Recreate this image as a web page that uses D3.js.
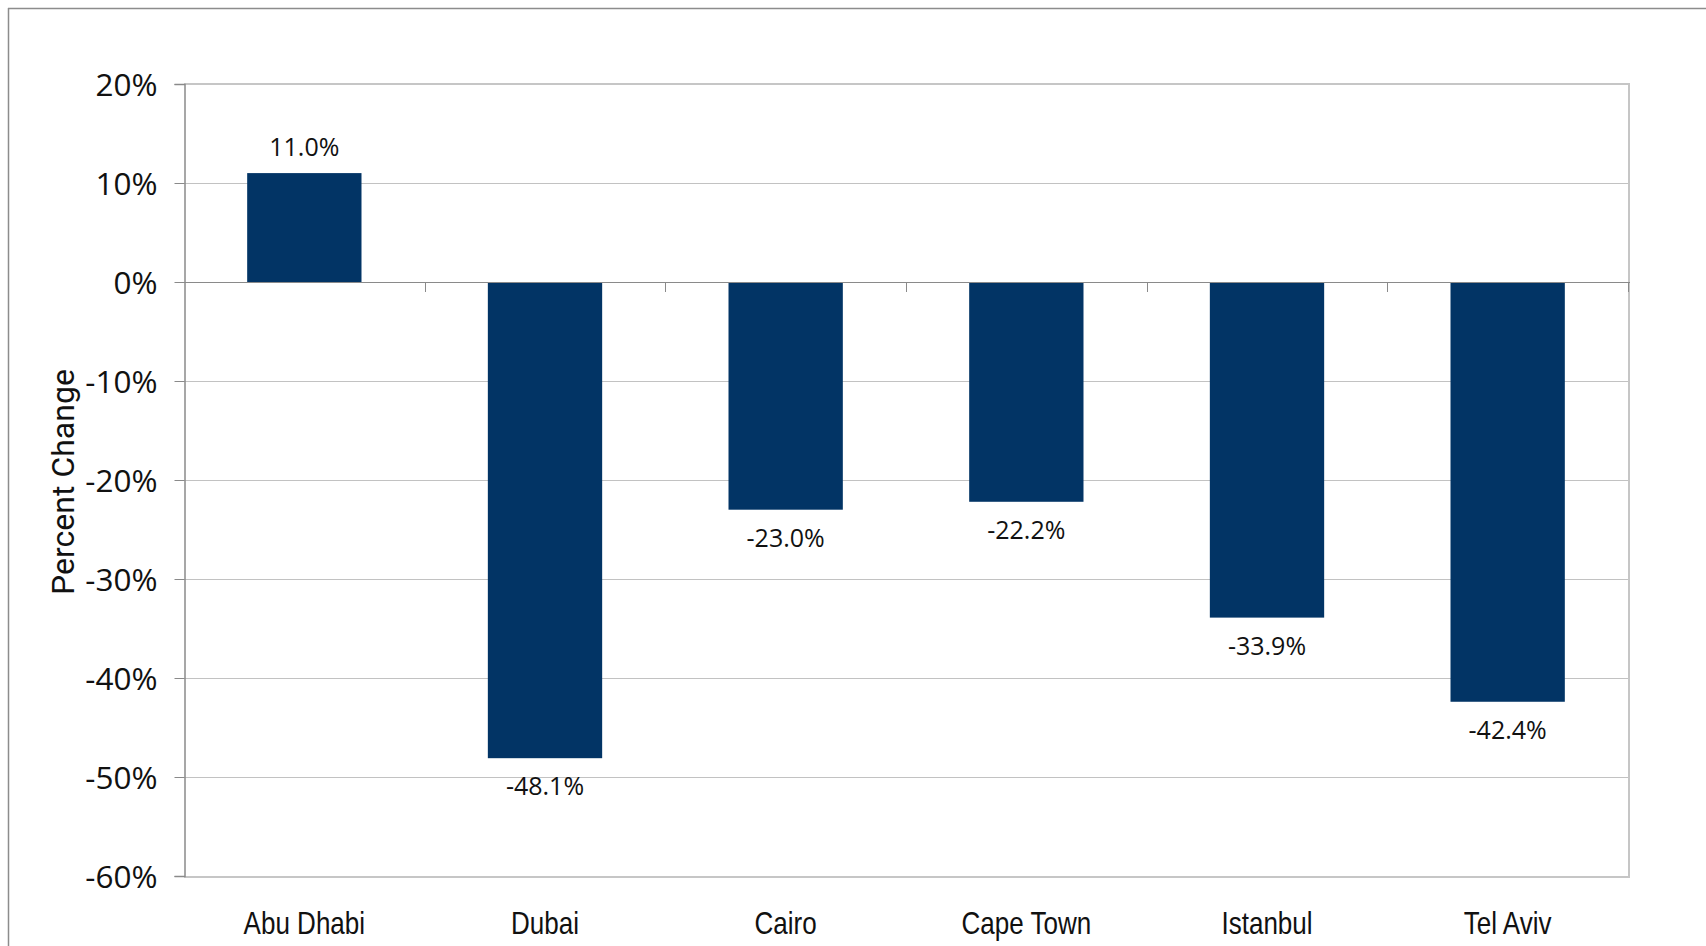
<!DOCTYPE html>
<html><head><meta charset="utf-8">
<script src="https://cdn.jsdelivr.net/npm/d3@7"></script>
<style>html,body{margin:0;padding:0;background:#fff;overflow:hidden}</style>
</head><body>
<svg id="c" width="1706" height="946"></svg>
<script>
const categories = ["Abu Dhabi","Dubai","Cairo","Cape Town","Istanbul","Tel Aviv"];
const values = [11.0, -48.1, -23.0, -22.2, -33.9, -42.4];
const yTicks = [20, 10, 0, -10, -20, -30, -40, -50, -60];
const yTitle = "Percent Change";

const svg = d3.select("#c");
const L = 184, R = 1628, T = 84, B = 876;

// outer chart border (left & top visible)
svg.append("line").attr("x1",8.5).attr("x2",8.5).attr("y1",8).attr("y2",946).attr("stroke","#8c8c8c").attr("stroke-width",1.5);
svg.append("line").attr("x1",8).attr("x2",1706).attr("y1",8.5).attr("y2",8.5).attr("stroke","#8c8c8c").attr("stroke-width",1.5);

const x = d3.scaleBand().domain(categories).range([L, R]).paddingInner(0.525).paddingOuter(0.2625);
const xb = d3.scaleBand().domain(categories).range([L, R]);
const y = d3.scaleLinear().domain([-60, 20]).range([B, T]);

// gridlines
svg.append("g").selectAll("line").data(yTicks).join("line")
  .attr("x1", L).attr("x2", R)
  .attr("y1", d => Math.round(y(d)) + 0.5).attr("y2", d => Math.round(y(d)) + 0.5)
  .attr("stroke", "#c2c2c2").attr("stroke-width", 1);

// plot frame right/bottom/top
svg.append("line").attr("x1",R+1).attr("x2",R+1).attr("y1",T).attr("y2",B+1).attr("stroke","#c6c6c6").attr("stroke-width",2);
svg.append("line").attr("x1",L).attr("x2",R+2).attr("y1",B+1).attr("y2",B+1).attr("stroke","#c6c6c6").attr("stroke-width",2);
svg.append("line").attr("x1",L).attr("x2",R+2).attr("y1",T).attr("y2",T).attr("stroke","#c6c6c6").attr("stroke-width",2);

// bars
svg.append("g").selectAll("rect").data(values).join("rect")
  .attr("x", (d,i) => x(categories[i]))
  .attr("width", x.bandwidth())
  .attr("y", d => y(Math.max(0, d)))
  .attr("height", d => Math.abs(y(d) - y(0)))
  .attr("fill", "#023465");

// zero line + category ticks
svg.append("line").attr("x1",L).attr("x2",R+2).attr("y1",Math.round(y(0))+0.5).attr("y2",Math.round(y(0))+0.5)
  .attr("stroke","#8a8a8a").attr("stroke-width",1.2);
svg.append("g").selectAll("line").data(categories.slice(1).concat(["end"])).join("line")
  .attr("x1", (d,i) => Math.round(i < categories.length-1 ? xb(d) : R) + 0.5)
  .attr("x2", (d,i) => Math.round(i < categories.length-1 ? xb(d) : R) + 0.5)
  .attr("y1", y(0)).attr("y2", y(0) + 10)
  .attr("stroke","#8a8a8a").attr("stroke-width",1);

// y axis
const yAxis = d3.axisLeft(y).tickValues(yTicks).tickSize(10).tickPadding(17).tickFormat(d => d + "%");
const gy = svg.append("g").attr("transform", `translate(${L+0.5},0)`).call(yAxis);
gy.select(".domain").attr("stroke","#8a8a8a").attr("stroke-width",1.5);
gy.selectAll(".tick line").attr("stroke","#8a8a8a");
gy.selectAll(".tick text").attr("font-family","'Open Sans', sans-serif").attr("font-size",31.5).attr("fill","#111").attr("dy","0.36em");

// x labels (condensed look)
svg.append("g").selectAll("text").data(categories).join("text")
  .attr("transform", d => `translate(${xb(d) + xb.bandwidth()/2},934) scale(0.84,1)`)
  .attr("text-anchor","middle")
  .attr("font-family","'Liberation Sans', Arial, sans-serif")
  .attr("font-size",31).attr("fill","#111")
  .text(d => d);

// data labels
svg.append("g").selectAll("text").data(values).join("text")
  .attr("x", (d,i) => xb(categories[i]) + xb.bandwidth()/2)
  .attr("y", d => d >= 0 ? y(d) - 17 : y(d) + 37)
  .attr("text-anchor","middle")
  .attr("font-family","'Open Sans', sans-serif")
  .attr("font-size",25).attr("fill","#111")
  .text(d => d.toFixed(1) + "%");

// y title
svg.append("text")
  .attr("transform", `translate(74,${482}) rotate(-90)`)
  .attr("text-anchor","middle")
  .attr("font-family","Roboto, sans-serif")
  .attr("font-size",32).attr("fill","#111")
  .text(yTitle);
</script>
</body></html>
